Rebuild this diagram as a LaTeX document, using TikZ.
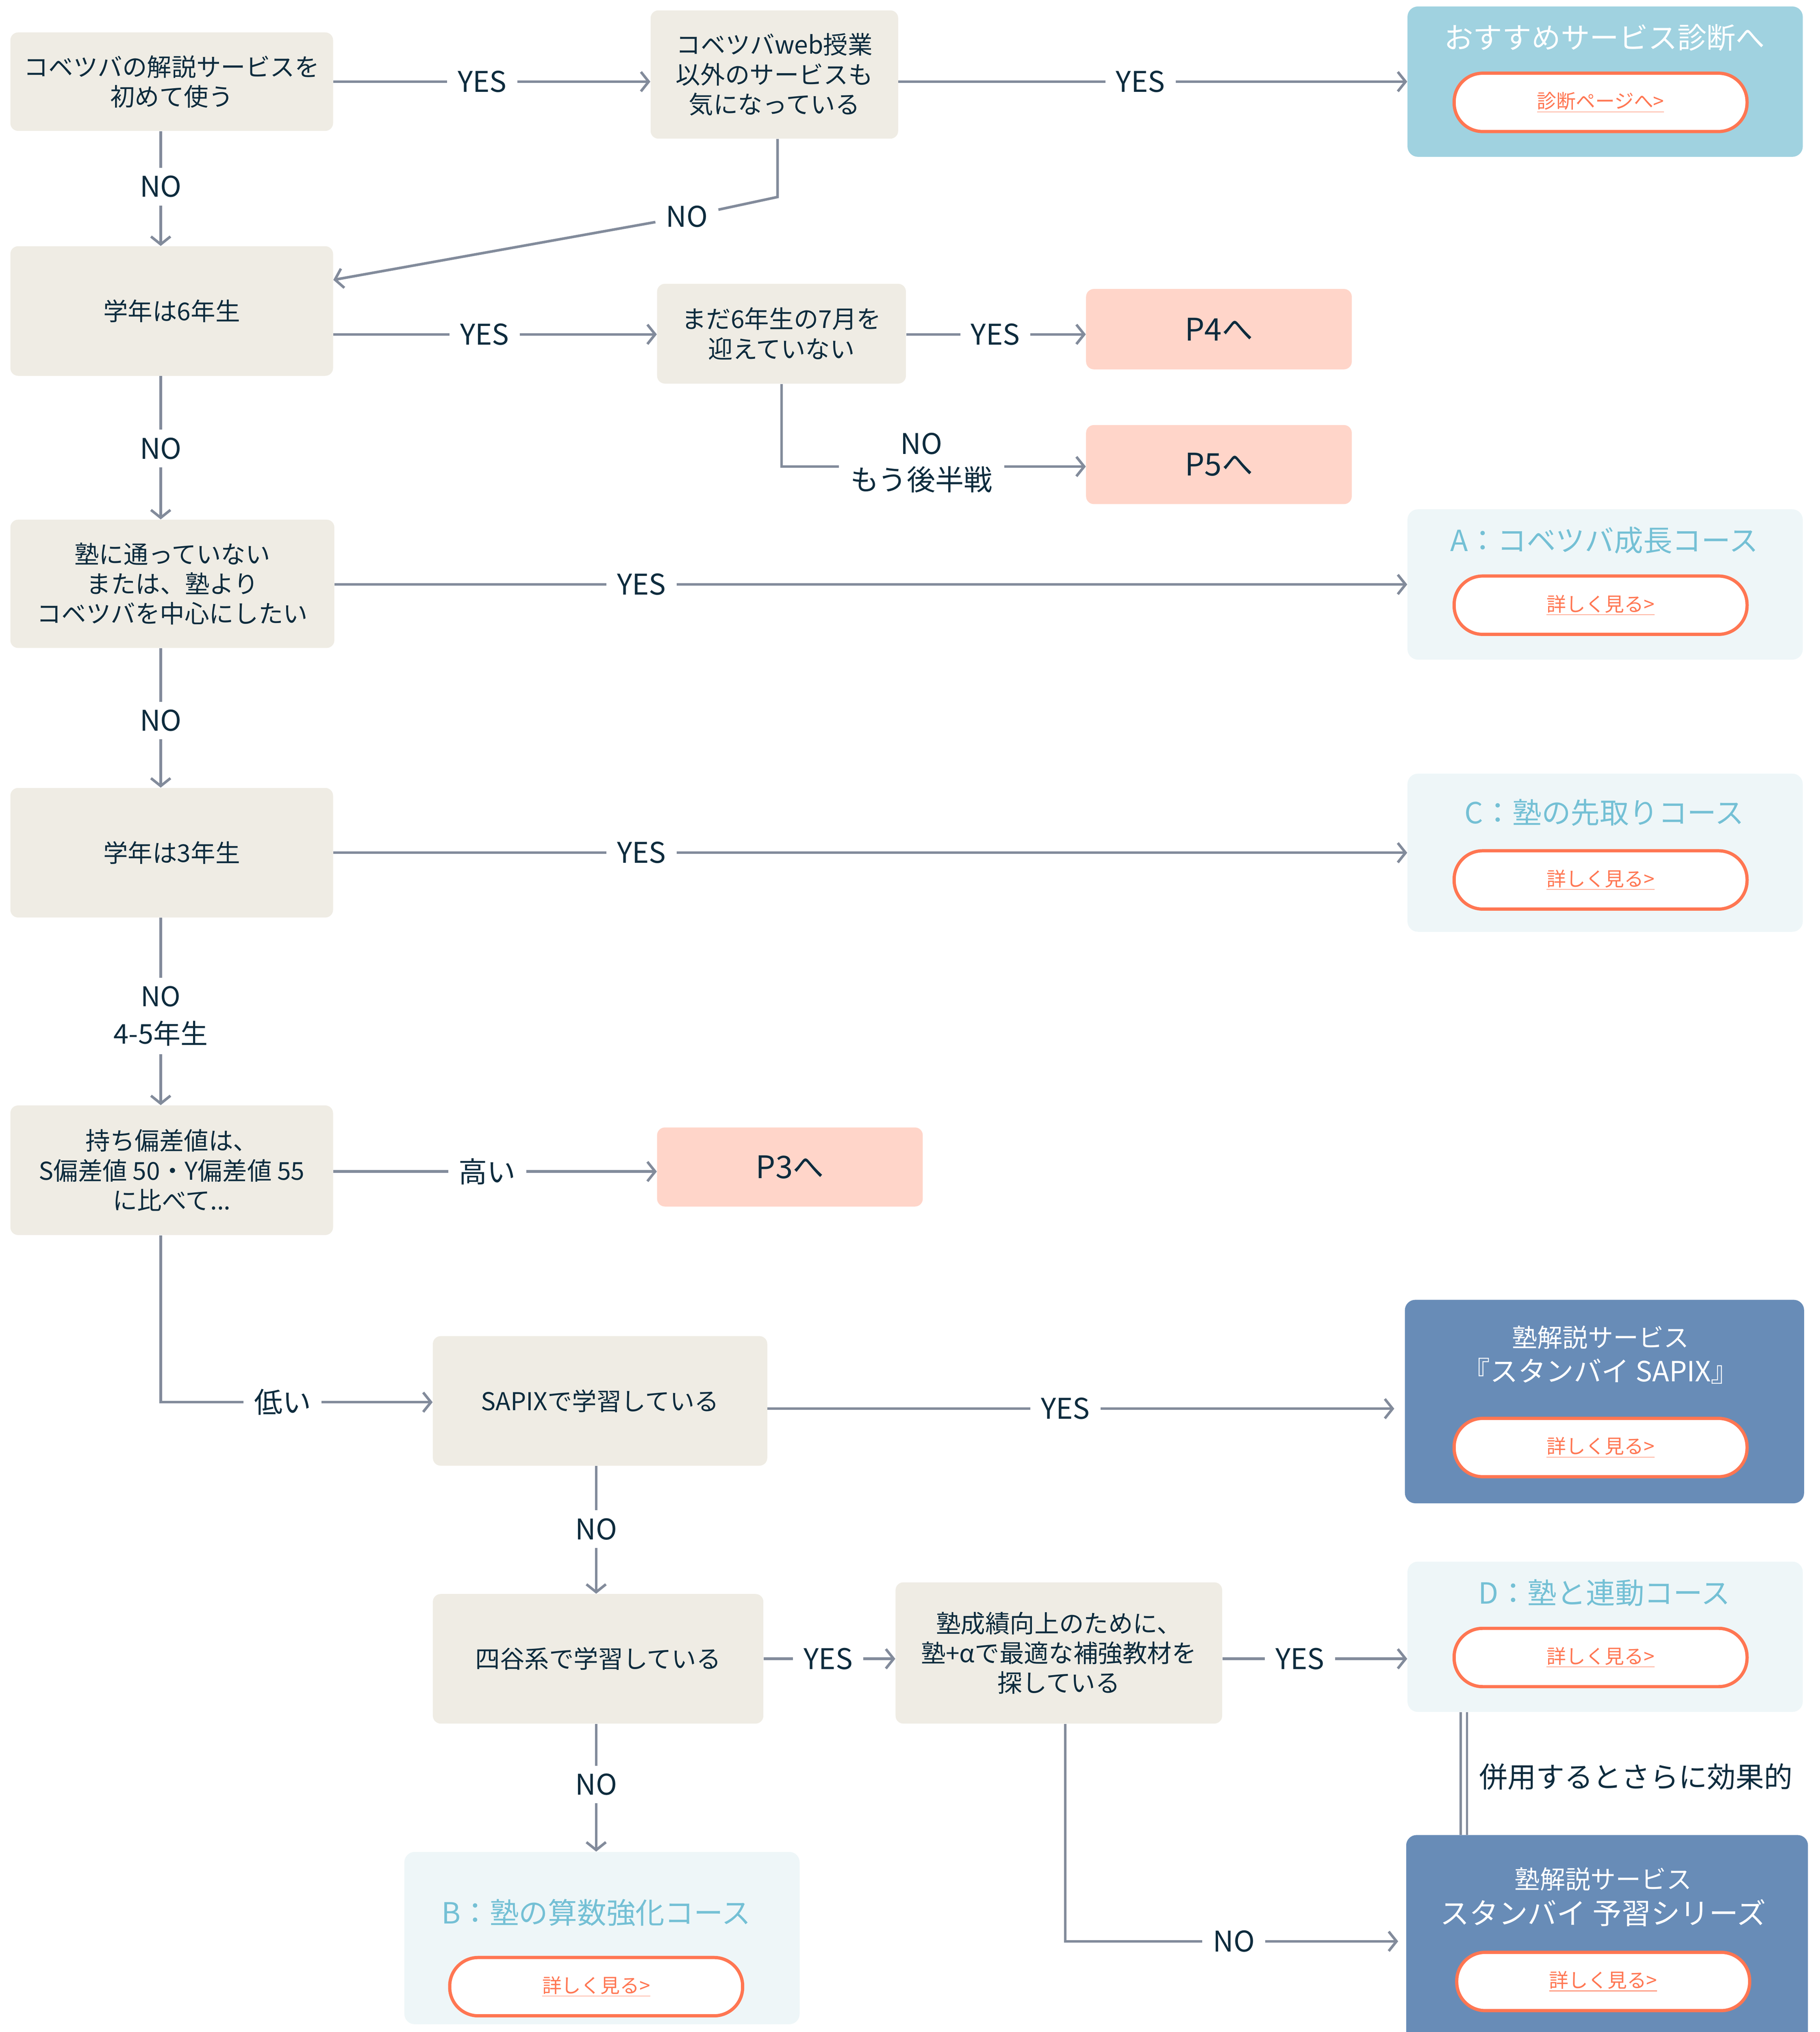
\documentclass[tikz,border=0pt]{standalone}
\usepackage{fontspec}
\setmainfont{Noto Sans CJK JP}
\usepackage{tikz}
\usetikzlibrary{arrows.meta, positioning}
\definecolor{qbeige}{HTML}{EFECE4}
\definecolor{ink}{HTML}{0D2B3D}
\definecolor{wire}{HTML}{828B9B}
\definecolor{psalmon}{HTML}{FFD5C9}
\definecolor{diagblue}{HTML}{A0D2E0}
\definecolor{clight}{HTML}{EEF6F8}
\definecolor{cdark}{HTML}{688CB7}
\definecolor{titleblue}{HTML}{74C0D5}
\definecolor{btnorange}{HTML}{FF7652}
\tikzstyle{question} = [rectangle, rounded corners=6pt, fill=qbeige, text=ink, inner sep=0pt, align=center,
                        font=\fontsize{19}{23}\selectfont]
\tikzstyle{goto} = [rectangle, rounded corners=6pt, fill=psalmon, text=ink, inner sep=0pt,
                    minimum width=205pt, minimum height=62pt, font=\fontsize{24}{28}\selectfont]
\tikzstyle{course} = [rectangle, rounded corners=8pt, fill=clight, inner sep=0pt]
\tikzstyle{coursetitle} = [inner sep=0pt, text=titleblue, font=\fontsize{22.5}{26}\selectfont]
\tikzstyle{more} = [rectangle, rounded corners=22pt, draw=btnorange, line width=2.5pt, fill=white, inner sep=0pt,
                    minimum width=226pt, minimum height=45pt, text=btnorange, font=\fontsize{15}{18}\selectfont]
\tikzstyle{lbl} = [inner xsep=8pt, inner ysep=6pt, text=ink, align=center, font=\fontsize{22}{28}\selectfont]
\tikzstyle{link} = [draw=wire, line width=2pt]
\tikzstyle{flow} = [link, -{Straight Barb[length=6pt, width=15pt]}]

\begin{document}
\begin{tikzpicture}[x=1pt, y=-1pt]
	\useasboundingbox (0,0) rectangle (1404,1568);

	% first row
	\node (Q1) [question, minimum width=249pt, minimum height=76pt] at (132.5,63) {コベツバの解説サービスを\\初めて使う};
	\node (Q2) [question, minimum width=191pt, minimum height=99pt] at (597.5,57.5) {コベツバweb授業\\以外のサービスも\\気になっている};
	\node (Diag) [course, fill=diagblue, minimum width=305pt, minimum height=116pt] at (1238.5,63) {};
	\node (DiagTitle) [coursetitle, text=white] at (1238,29) {おすすめサービス診断へ};
	\node (DiagBtn) [more] at (1235,79) {\underline{診断ページへ>}};

	\node (YesA) [lbl] at (372,63) {YES};
	\draw [link] (Q1) -- (YesA);
	\draw [flow] (YesA) -- (Q2.west |- YesA);

	\node (YesB) [lbl] at (880,63) {YES};
	\draw [link] (Q2.east |- YesB) -- (YesB);
	\draw [flow] (YesB) -- (Diag.west |- YesB);

	% 6th grade
	\node (Q3) [question, minimum width=249pt, minimum height=100pt] at (132.5,240) {学年は6年生};

	\node (NoA) [lbl] at (124,144) {NO};
	\draw [link] (Q1.south -| NoA) -- (NoA);
	\draw [flow] (NoA) -- (NoA |- Q3.north);

	\coordinate (Q2Turn) at (600,152);
	\node (NoB) [lbl] at (530,167) {NO};
	\draw [link] (Q2.south -| Q2Turn) -- (Q2Turn) -- (NoB);
	\draw [flow] (NoB) -- ([yshift=24pt]Q3.east);

	\node (Q4) [question, minimum width=192pt, minimum height=77pt] at (603,257.5) {まだ6年生の7月を\\迎えていない};
	\node (YesC) [lbl] at (374,258) {YES};
	\draw [link] (Q3.east |- YesC) -- (YesC);
	\draw [flow] (YesC) -- (Q4.west |- YesC);

	\node (P4) [goto] at (940.5,254) {P4へ};
	\node (YesD) [lbl] at (768,258) {YES};
	\draw [link] (Q4.east |- YesD) -- (YesD);
	\draw [flow] (YesD) -- (P4.west |- YesD);

	\node (P5) [goto, minimum height=61pt] at (940.5,358.5) {P5へ};
	\coordinate (LateTurn) at (603,360);
	\node (NoC) [lbl, inner xsep=9pt] at (711,357) {NO\\もう後半戦};
	\draw [link] (Q4.south -| LateTurn) -- (LateTurn) -- (NoC.west |- LateTurn);
	\draw [flow] (NoC.east |- LateTurn) -- (P5.west |- LateTurn);

	% juku or kobetsuba
	\node (Q5) [question, minimum width=250pt, minimum height=99pt] at (133,450.5) {塾に通っていない\\または、塾より\\コベツバを中心にしたい};
	\node (NoD) [lbl] at (124,346) {NO};
	\draw [link] (Q3.south -| NoD) -- (NoD);
	\draw [flow] (NoD) -- (NoD |- Q5.north);

	\node (CourseA) [course, minimum width=305pt, minimum height=116pt] at (1238.5,451) {};
	\node (CourseATitle) [coursetitle] at (1238,417) {A：コベツバ成長コース};
	\node (CourseABtn) [more] at (1235,467) {\underline{詳しく見る>}};
	\node (YesE) [lbl] at (495,451) {YES};
	\draw [link] (Q5.east |- YesE) -- (YesE);
	\draw [flow] (YesE) -- (CourseA.west |- YesE);

	% 3rd grade
	\node (Q6) [question, minimum width=249pt, minimum height=100pt] at (132.5,658) {学年は3年生};
	\node (NoE) [lbl] at (124,556) {NO};
	\draw [link] (Q5.south -| NoE) -- (NoE);
	\draw [flow] (NoE) -- (NoE |- Q6.north);

	\node (CourseC) [course, minimum width=305pt, minimum height=122pt] at (1238.5,658) {};
	\node (CourseCTitle) [coursetitle] at (1238,627) {C：塾の先取りコース};
	\node (CourseCBtn) [more] at (1235,679) {\underline{詳しく見る>}};
	\node (YesF) [lbl] at (495,658) {YES};
	\draw [link] (Q6.east |- YesF) -- (YesF);
	\draw [flow] (YesF) -- (CourseC.west |- YesF);

	% 4-5th grade
	\node (Q7) [question, minimum width=249pt, minimum height=100pt] at (132.5,903) {持ち偏差値は、\\S偏差値 50・Y偏差値 55\\に比べて...};
	\node (NoF) [lbl, font=\fontsize{21}{29}\selectfont] at (124,784) {NO\\4-5年生};
	\draw [link] (Q6.south -| NoF) -- (NoF);
	\draw [flow] (NoF) -- (NoF |- Q7.north);

	\node (P3) [goto, minimum height=61pt] at (609.5,900.5) {P3へ};
	\node (HighLbl) [lbl] at (376,904) {高い};
	\draw [link] (Q7.east |- HighLbl) -- (HighLbl);
	\draw [flow] (HighLbl) -- (P3.west |- HighLbl);

	% sapix
	\node (Q8) [question, minimum width=258pt, minimum height=100pt] at (463,1081) {SAPIXで学習している};
	\coordinate (LowTurn) at (124,1082);
	\node (LowLbl) [lbl] at (218,1082) {低い};
	\draw [link] (Q7.south -| LowTurn) -- (LowTurn) -- (LowLbl);
	\draw [flow] (LowLbl) -- (Q8.west |- LowLbl);

	\node (Sapix) [course, fill=cdark, minimum width=308pt, minimum height=157pt] at (1238,1081.5) {};
	\node (SapixTop) [coursetitle, text=white, font=\fontsize{19.5}{23}\selectfont] at (1235,1032) {塾解説サービス};
	\node (SapixName) [coursetitle, text=white, font=\fontsize{21.5}{25}\selectfont] at (1235,1058) {『スタンバイ SAPIX』};
	\node (SapixBtn) [more] at (1235,1117) {\underline{詳しく見る>}};
	\node (YesG) [lbl] at (822,1087) {YES};
	\draw [link] (Q8.east |- YesG) -- (YesG);
	\draw [flow, shorten >=8pt] (YesG) -- (Sapix.west |- YesG);

	% yotsuya
	\node (Q9) [question, minimum width=255pt, minimum height=100pt] at (461.5,1280) {四谷系で学習している};
	\node (NoG) [lbl] at (460,1180) {NO};
	\draw [link] (Q8.south -| NoG) -- (NoG);
	\draw [flow] (NoG) -- (NoG |- Q9.north);

	\node (Q10) [question, minimum width=252pt, minimum height=109pt] at (817,1275.5) {塾成績向上のために、\\塾+αで最適な補強教材を\\探している};
	\node (YesH) [lbl] at (639,1280) {YES};
	\draw [link] (Q9.east |- YesH) -- (YesH);
	\draw [flow] (YesH) -- (Q10.west |- YesH);

	\node (CourseD) [course, minimum width=305pt, minimum height=116pt] at (1238.5,1263) {};
	\node (CourseDTitle) [coursetitle] at (1238,1229) {D：塾と連動コース};
	\node (CourseDBtn) [more] at (1235,1279) {\underline{詳しく見る>}};
	\node (YesI) [lbl] at (1003,1280) {YES};
	\draw [link] (Q10.east |- YesI) -- (YesI);
	\draw [flow] (YesI) -- (CourseD.west |- YesI);

	\node (CourseB) [course, minimum width=305pt, minimum height=133pt] at (464.5,1495.5) {};
	\node (CourseBTitle) [coursetitle] at (460,1476) {B：塾の算数強化コース};
	\node (CourseBBtn) [more] at (460,1533) {\underline{詳しく見る>}};
	\node (NoH) [lbl] at (460,1377) {NO};
	\draw [link] (Q9.south -| NoH) -- (NoH);
	\draw [flow] (NoH) -- (NoH |- CourseB.north);

	% yoshu series
	\node (Yoshu) [course, fill=cdark, minimum width=310pt, minimum height=160pt] at (1240,1496) {};
	\node (YoshuTop) [coursetitle, text=white, font=\fontsize{19.5}{23}\selectfont] at (1237,1450) {塾解説サービス};
	\node (YoshuName) [coursetitle, text=white, font=\fontsize{22.5}{26}\selectfont] at (1237,1476) {スタンバイ 予習シリーズ};
	\node (YoshuBtn) [more] at (1237,1529) {\underline{詳しく見る>}};
	\coordinate (BoostTurn) at (822,1498);
	\node (NoI) [lbl] at (952,1498) {NO};
	\draw [link] (Q10.south -| BoostTurn) -- (BoostTurn) -- (NoI);
	\draw [flow, shorten >=6pt] (NoI) -- (Yoshu.west |- NoI);

	% used together
	\coordinate (PairX) at (1129.5,1371);
	\node (Pair) [lbl, anchor=west, inner xsep=0pt] at (1141,1371) {併用するとさらに効果的};
	\draw [draw=wire, line width=1.8pt, double=white, double distance=3pt] (CourseD.south -| PairX) -- (Yoshu.north -| PairX);
\end{tikzpicture}
\end{document}
